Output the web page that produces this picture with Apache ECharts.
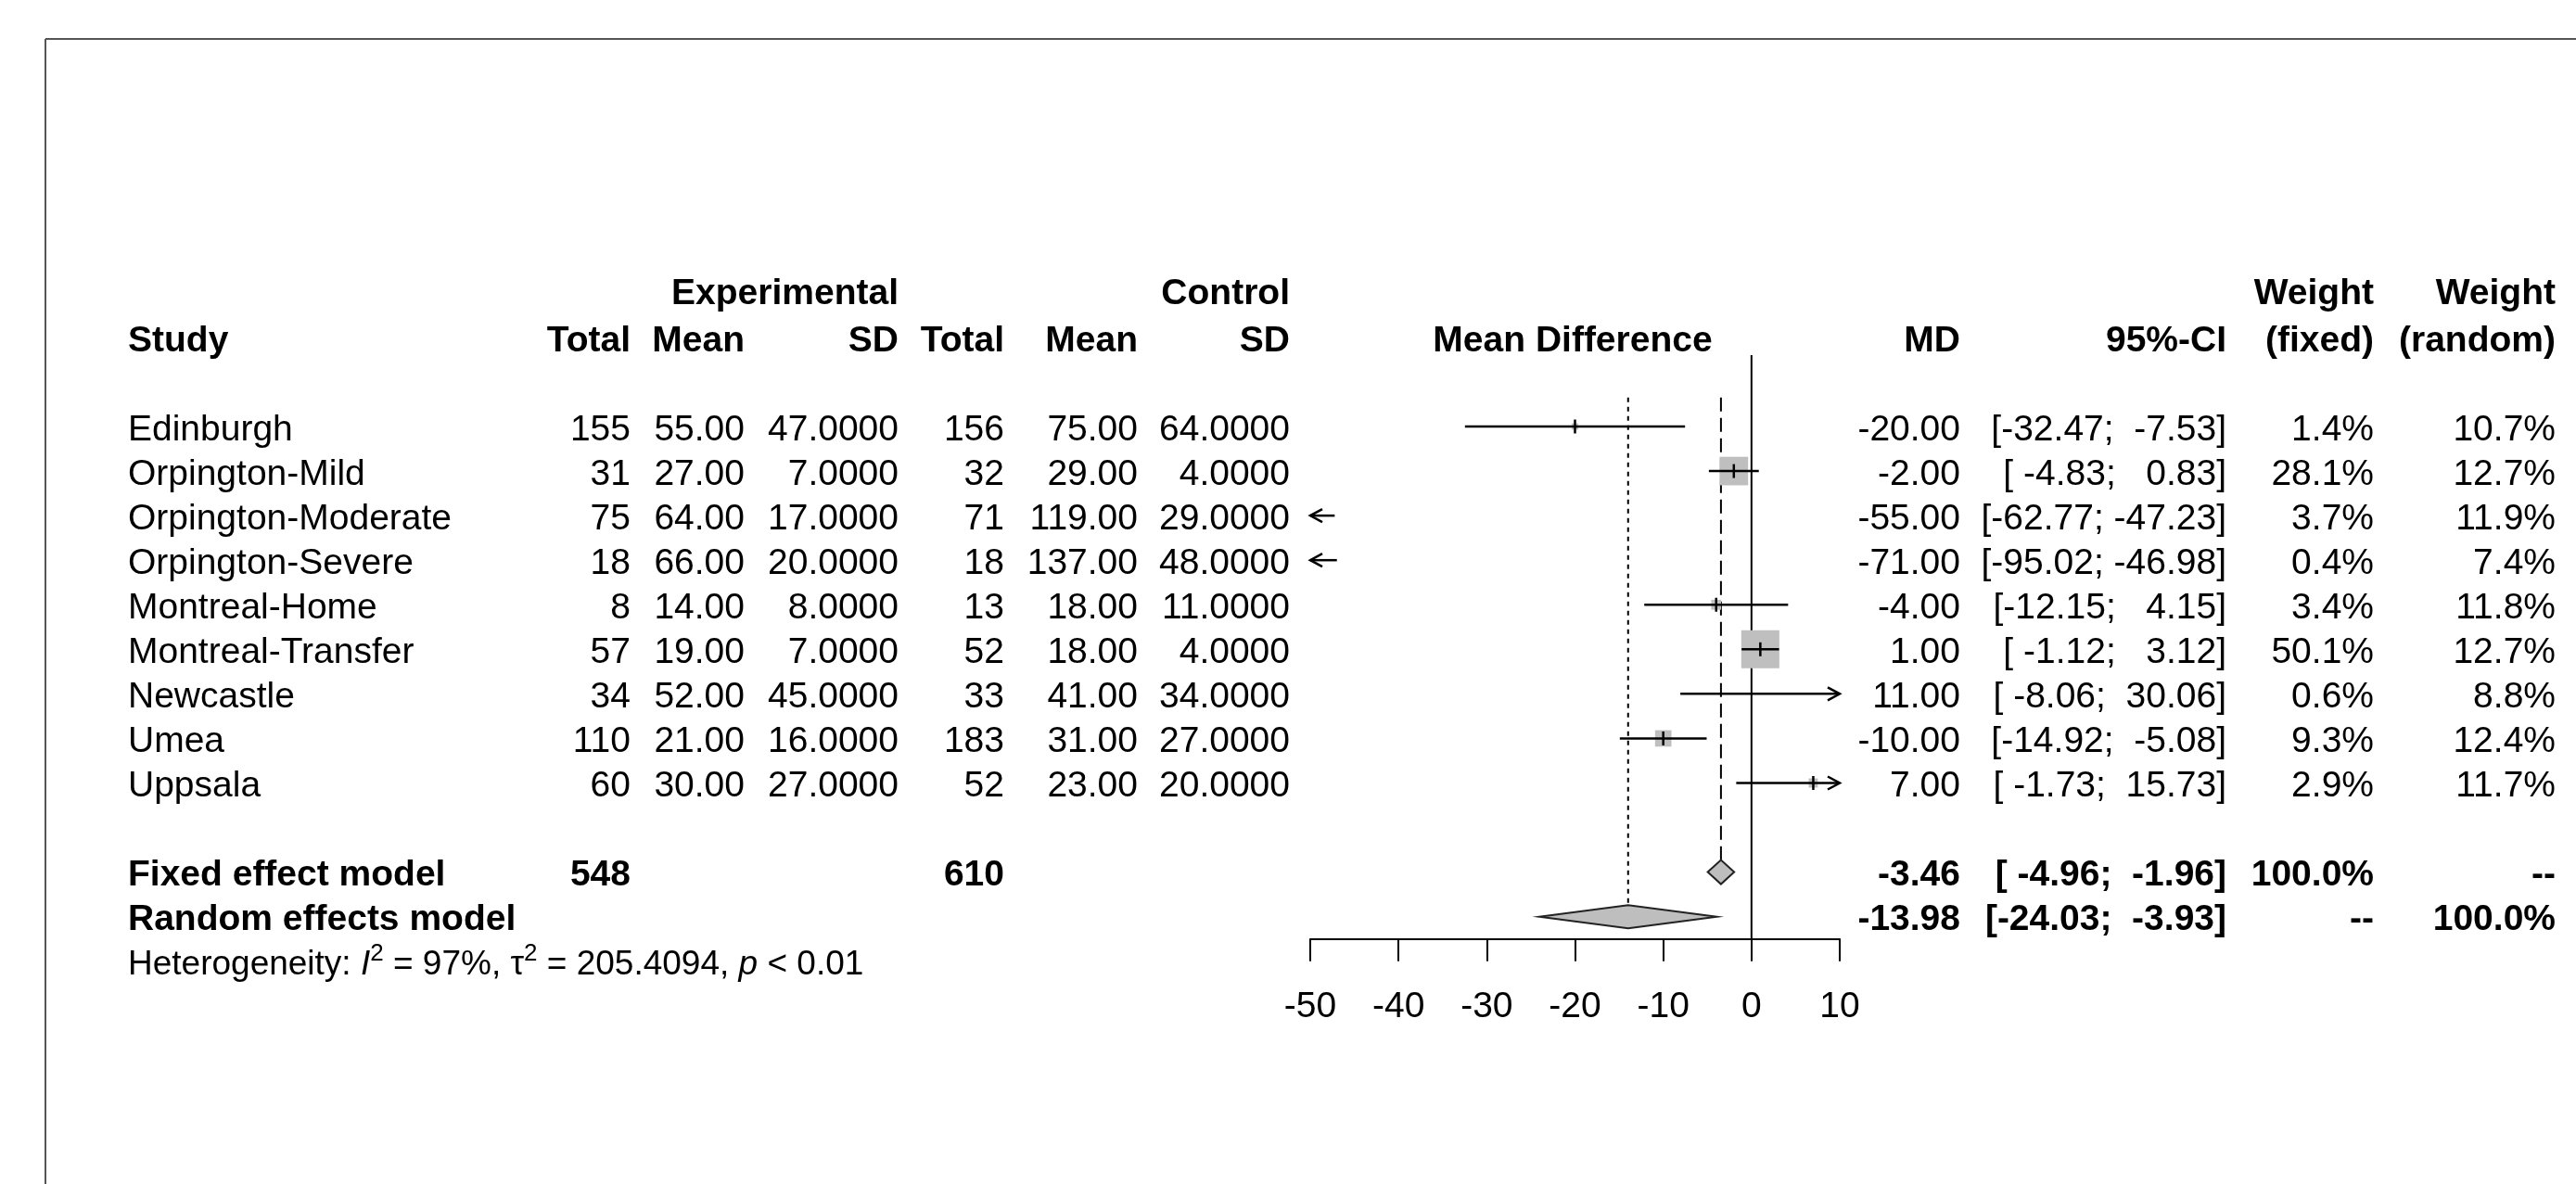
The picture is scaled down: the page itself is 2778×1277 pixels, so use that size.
<!DOCTYPE html>
<html>
<head>
<meta charset="utf-8">
<title>Forest plot</title>
<script src="https://cdn.jsdelivr.net/npm/echarts@6.0.0/dist/echarts.min.js"></script>
<style>
  html, body { margin: 0; padding: 0; background: #fff; }
  #main { width: 2778px; height: 1277px; }
</style>
</head>
<body>
<div id="main"></div>
<script>
// study data
var studies = ['Edinburgh', 'Orpington-Mild', 'Orpington-Moderate', 'Orpington-Severe',
  'Montreal-Home', 'Montreal-Transfer', 'Newcastle', 'Umea', 'Uppsala'];
var expTotal = [155, 31, 75, 18, 8, 57, 34, 110, 60];
var expMean = [55, 27, 64, 66, 14, 19, 52, 21, 30];
var expSD = [47, 7, 17, 20, 8, 7, 45, 16, 27];
var ctrlTotal = [156, 32, 71, 18, 13, 52, 33, 183, 52];
var ctrlMean = [75, 29, 119, 137, 18, 18, 41, 31, 23];
var ctrlSD = [64, 4, 29, 48, 11, 4, 34, 27, 20];
var md = [-20, -2, -55, -71, -4, 1, 11, -10, 7];
var ciLower = [-32.47, -4.83, -62.77, -95.02, -12.15, -1.12, -8.06, -14.92, -1.73];
var ciUpper = [-7.53, 0.83, -47.23, -46.98, 4.15, 3.12, 30.06, -5.08, 15.73];
var weightFixed = [1.4, 28.1, 3.7, 0.4, 3.4, 50.1, 0.6, 9.3, 2.9];
var weightRandom = [10.7, 12.7, 11.9, 7.4, 11.8, 12.7, 8.8, 12.4, 11.7];

// pooled models
var pooledNames = ['Fixed effect model', 'Random effects model'];
var pooledMD = [-3.46, -13.98];
var pooledLower = [-4.96, -24.03];
var pooledUpper = [-1.96, -3.93];
var pooledWeightFixed = ['100.0%', '--'];
var pooledWeightRandom = ['--', '100.0%'];

var xTicks = [-50, -40, -30, -20, -10, 0, 10];
var heterogeneity = '{n|Heterogeneity: }{it|I}{sup|2}{n| = 97%, \u03c4}{sup|2}{n| = 205.4094, }{it|p}{n| < 0.01}';

var FONT = "'Liberation Sans', Arial, Helvetica, sans-serif";
var XMIN = xTicks[0], XMAX = xTicks[xTicks.length - 1];

// column anchors (pixels)
var col = {
  study: 138, expTotal: 680, expMean: 803, expSD: 969,
  ctrlTotal: 1083, ctrlMean: 1227, ctrlSD: 1391, mdHead: 1696,
  md: 2114, ci: 2401, wFixed: 2560, wRandom: 2756
};

function pad(s, n) { while (s.length < n) s = ' ' + s; return s; }
function ciText(lo, hi) { return '[' + pad(lo.toFixed(2), 6) + '; ' + pad(hi.toFixed(2), 6) + ']'; }
function sum(a) { return a.reduce(function (p, c) { return p + c; }, 0); }

// table rows: [row, cells]; cell = [x, text, align, bold]
var tableRows = [];
tableRows.push({ row: -3.05, cells: [
  [col.expSD, 'Experimental', 'right', true], [col.ctrlSD, 'Control', 'right', true],
  [col.wFixed, 'Weight', 'right', true], [col.wRandom, 'Weight', 'right', true]] });
tableRows.push({ row: -2, cells: [
  [col.study, 'Study', 'left', true], [col.expTotal, 'Total', 'right', true],
  [col.expMean, 'Mean', 'right', true], [col.expSD, 'SD', 'right', true],
  [col.ctrlTotal, 'Total', 'right', true], [col.ctrlMean, 'Mean', 'right', true],
  [col.ctrlSD, 'SD', 'right', true], [col.mdHead, 'Mean Difference', 'center', true],
  [col.md, 'MD', 'right', true], [col.ci, '95%-CI', 'right', true],
  [col.wFixed, '(fixed)', 'right', true], [col.wRandom, '(random)', 'right', true]] });
studies.forEach(function (s, i) {
  tableRows.push({ row: i, cells: [
    [col.study, s, 'left', false],
    [col.expTotal, String(expTotal[i]), 'right', false],
    [col.expMean, expMean[i].toFixed(2), 'right', false],
    [col.expSD, expSD[i].toFixed(4), 'right', false],
    [col.ctrlTotal, String(ctrlTotal[i]), 'right', false],
    [col.ctrlMean, ctrlMean[i].toFixed(2), 'right', false],
    [col.ctrlSD, ctrlSD[i].toFixed(4), 'right', false],
    [col.md, md[i].toFixed(2), 'right', false],
    [col.ci, ciText(ciLower[i], ciUpper[i]), 'right', false],
    [col.wFixed, weightFixed[i].toFixed(1) + '%', 'right', false],
    [col.wRandom, weightRandom[i].toFixed(1) + '%', 'right', false]] });
});
pooledNames.forEach(function (name, k) {
  var cells = [[col.study, name, 'left', true]];
  if (k === 0) {
    cells.push([col.expTotal, String(sum(expTotal)), 'right', true]);
    cells.push([col.ctrlTotal, String(sum(ctrlTotal)), 'right', true]);
  }
  cells.push([col.md, pooledMD[k].toFixed(2), 'right', true]);
  cells.push([col.ci, ciText(pooledLower[k], pooledUpper[k]), 'right', true]);
  cells.push([col.wFixed, pooledWeightFixed[k], 'right', true]);
  cells.push([col.wRandom, pooledWeightRandom[k], 'right', true]);
  tableRows.push({ row: 10 + k, cells: cells });
});
tableRows.push({ row: 12, rich: heterogeneity });

function renderTable(params, api) {
  var r = tableRows[params.dataIndex];
  var y = api.coord([0, api.value(1)])[1] + 4;
  if (r.rich) {
    return {
      type: 'text', x: col.study, y: y,
      style: {
        text: r.rich, fill: '#000', fontFamily: FONT, fontSize: 37,
        align: 'left', verticalAlign: 'middle',
        rich: {
          n: { fontFamily: FONT, fontSize: 37, fill: '#000', lineHeight: 50 },
          it: { fontFamily: FONT, fontSize: 37, fontStyle: 'italic', fill: '#000', lineHeight: 50 },
          sup: { fontFamily: FONT, fontSize: 26, fill: '#000', verticalAlign: 'top', lineHeight: 24 }
        }
      }
    };
  }
  return {
    type: 'group',
    children: r.cells.map(function (c) {
      return {
        type: 'text', x: c[0], y: y,
        style: {
          text: c[1], fill: '#000', fontFamily: FONT, fontSize: 39,
          fontWeight: c[3] ? 'bold' : 'normal', align: c[2], verticalAlign: 'middle'
        }
      };
    })
  };
}

function renderStudy(params, api) {
  var est = api.value(0), row = api.value(1), lo = api.value(2), hi = api.value(3), w = api.value(4);
  var cl = Math.max(lo, XMIN), ch = Math.min(hi, XMAX);
  var pL = api.coord([cl, row]), pH = api.coord([ch, row]);
  var y = pL[1];
  var kids = [];
  var inRange = est >= XMIN && est <= XMAX;
  var c = api.coord([est, row]);
  if (inRange) {
    var s = 5.8 * Math.sqrt(w);
    kids.push({ type: 'rect', shape: { x: c[0] - s / 2, y: c[1] - s / 2, width: s, height: s },
      style: { fill: '#bfbfbf' } });
  }
  kids.push({ type: 'line', shape: { x1: pL[0], y1: y, x2: pH[0], y2: y },
    style: { stroke: '#000', lineWidth: 2.5 } });
  if (inRange) {
    kids.push({ type: 'line', shape: { x1: c[0], y1: c[1] - 7.5, x2: c[0], y2: c[1] + 7.5 },
      style: { stroke: '#000', lineWidth: 2.5 } });
  }
  if (lo < XMIN) {
    kids.push({ type: 'polyline', shape: { points: [[pL[0] + 13, y - 7], [pL[0], y], [pL[0] + 13, y + 7]] },
      style: { stroke: '#000', lineWidth: 2.5, fill: null } });
  }
  if (hi > XMAX) {
    kids.push({ type: 'polyline', shape: { points: [[pH[0] - 13, y - 7], [pH[0], y], [pH[0] - 13, y + 7]] },
      style: { stroke: '#000', lineWidth: 2.5, fill: null } });
  }
  return { type: 'group', children: kids };
}

function renderDiamond(params, api) {
  var est = api.value(0), row = api.value(1), lo = api.value(2), hi = api.value(3);
  var h = params.dataIndex === 0 ? 13 : 12.5;
  var a = api.coord([lo, row]), b = api.coord([est, row]), d = api.coord([hi, row]);
  return {
    type: 'polygon',
    shape: { points: [[a[0], a[1]], [b[0], b[1] - h], [d[0], d[1]], [b[0], b[1] + h]] },
    style: { fill: '#bebebe', stroke: '#222', lineWidth: 2 }
  };
}

// vertical reference lines: [x, rowFrom, rowTo, style]
var refData = [
  [0, -1.6, 11.5, 0],
  [pooledMD[0], -0.65, 10 - 13 / 48.06, 1],
  [pooledMD[1], -0.65, 11 - 12.5 / 48.06, 2]
];
function renderRef(params, api) {
  var p1 = api.coord([api.value(0), api.value(1)]);
  var p2 = api.coord([api.value(0), api.value(2)]);
  var t = api.value(3);
  return {
    type: 'line', shape: { x1: p1[0], y1: p1[1], x2: p2[0], y2: p2[1] },
    style: { stroke: '#000', lineWidth: 2, lineDash: t === 0 ? null : (t === 1 ? [15, 7] : [5, 5]) }
  };
}

var chart = echarts.init(document.getElementById('main'));
chart.setOption({
  animation: false,
  backgroundColor: '#fff',
  textStyle: { fontFamily: FONT },
  graphic: [
    { type: 'line', shape: { x1: 49, y1: 42, x2: 2778, y2: 42 }, style: { stroke: '#555', lineWidth: 2 } },
    { type: 'line', shape: { x1: 49, y1: 42, x2: 49, y2: 1277 }, style: { stroke: '#555', lineWidth: 2 } }
  ],
  grid: { left: 1413, right: 794, top: 460 - 6 * 48.06, bottom: 1277 - (460 + 11.5 * 48.06) },
  xAxis: {
    type: 'value', min: XMIN, max: XMAX, interval: 10,
    axisLine: { show: true, onZero: false, lineStyle: { color: '#000', width: 2 } },
    axisTick: { show: true, length: 24, lineStyle: { color: '#000', width: 2 } },
    axisLabel: { fontSize: 39, color: '#000', margin: 54, fontFamily: FONT },
    splitLine: { show: false }
  },
  yAxis: { type: 'value', min: -6, max: 11.5, inverse: true, show: false },
  series: [
    { type: 'custom', name: 'refs', renderItem: renderRef, data: refData, z: 2 },
    {
      type: 'custom', name: 'studies', renderItem: renderStudy, z: 3,
      data: studies.map(function (s, i) { return [md[i], i, ciLower[i], ciUpper[i], weightFixed[i]]; })
    },
    {
      type: 'custom', name: 'pooled', renderItem: renderDiamond, z: 3,
      data: pooledMD.map(function (v, k) { return [v, 10 + k, pooledLower[k], pooledUpper[k]]; })
    },
    {
      type: 'custom', name: 'table', renderItem: renderTable, z: 4,
      data: tableRows.map(function (r) { return [0, r.row]; })
    }
  ]
});
</script>
</body>
</html>
